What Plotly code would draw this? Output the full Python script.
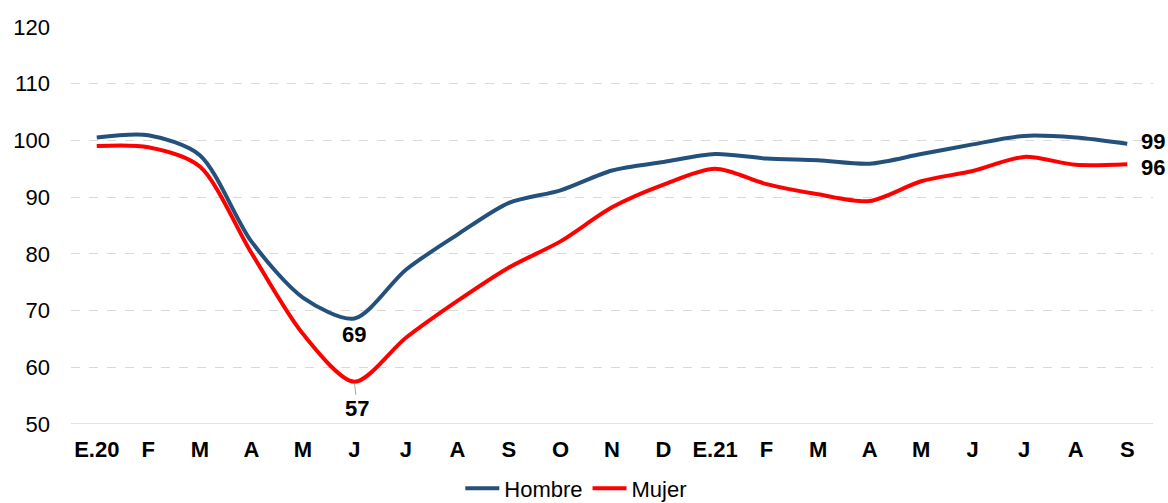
import plotly.graph_objects as go

# Month labels (Jan 2020 .. Sep 2021)
months = ["E.20", "F", "M", "A", "M", "J", "J", "A", "S", "O", "N", "D",
          "E.21", "F", "M", "A", "M", "J", "J", "A", "S"]

hombre = [100.5, 100.9, 97.4, 82.2, 72.3, 68.6, 77.2, 83.4, 89.0, 91.2, 94.7, 96.2,
          97.6, 96.8, 96.5, 95.9, 97.6, 99.3, 100.8, 100.5, 99.4]
mujer = [99.0, 98.8, 95.4, 80.2, 65.9, 57.45, 65.2, 71.7, 77.6, 82.2, 88.2, 92.2,
         95.0, 92.3, 90.5, 89.3, 92.8, 94.6, 97.1, 95.7, 95.8]

y_ticks = [50, 60, 70, 80, 90, 100, 110, 120]

BLUE = "#24507C"
RED = "#FF0000"
FONT = "Liberation Sans, Arial, sans-serif"
FS = 22

x = list(range(len(months)))

fig = go.Figure()
fig.add_trace(go.Scatter(x=x, y=hombre, name="Hombre", mode="lines",
                         line=dict(color=BLUE, width=4, shape="spline", smoothing=0.8)))
fig.add_trace(go.Scatter(x=x, y=mujer, name="Mujer", mode="lines",
                         line=dict(color=RED, width=4, shape="spline", smoothing=0.8)))

i_min = 5
last = len(months) - 1
label_font = dict(family=FONT, size=FS, color="#000000")

# minimum labels
fig.add_annotation(x=i_min, y=hombre[i_min], text=f"<b>{hombre[i_min]:.0f}</b>",
                   showarrow=False, yshift=-16, font=label_font)
fig.add_annotation(x=i_min, y=mujer[i_min], text=f"<b>{mujer[i_min]:.0f}</b>",
                   showarrow=True, arrowhead=0, arrowwidth=1, arrowcolor="#A6A6A6",
                   ax=3, ay=27, standoff=2, font=label_font)
# last-value labels
fig.add_annotation(x=last, y=hombre[last], text=f"<b>{hombre[last]:.0f}</b>",
                   showarrow=False, xshift=26, yshift=2, font=label_font)
fig.add_annotation(x=last, y=mujer[last], text=f"<b>{mujer[last]:.0f}</b>",
                   showarrow=False, xshift=26, yshift=-3, font=label_font)

fig.update_layout(
    width=1168, height=503,
    margin=dict(l=71, r=15, t=27, b=79, autoexpand=False),
    plot_bgcolor="white", paper_bgcolor="white",
    font=dict(family=FONT, size=FS, color="#000000"),
    showlegend=True,
    legend=dict(orientation="h", x=0.467, xanchor="center",
                yref="container", y=0.029, yanchor="middle",
                font=dict(family=FONT, size=FS, color="#000000"),
                itemwidth=34, tracegroupgap=0),
    hovermode=False,
)
fig.update_xaxes(
    range=[-0.5, len(months) - 0.5],
    tickmode="array", tickvals=x, ticktext=[f"<b>{m}</b>" for m in months],
    showgrid=False, zeroline=False,
    showline=False, ticks="", ticklabelstandoff=10,
    tickfont=dict(family=FONT, size=FS, color="#000000"),
)
fig.update_yaxes(
    range=[50, 120], tickmode="array", tickvals=y_ticks,
    showgrid=True, gridcolor="#D9D9D9", griddash="dash", gridwidth=1,
    zeroline=False, showline=False, ticks="", ticklabelstandoff=20,
    tickfont=dict(family=FONT, size=FS, color="#000000"),
)
# solid baseline at the bottom of the value axis
fig.add_hline(y=50, line=dict(color="#D9D9D9", width=1.5))

fig.write_html("out.html")
